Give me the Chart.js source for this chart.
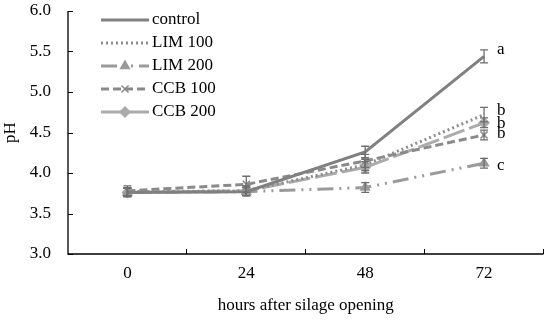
<!DOCTYPE html>
<html>
<head>
<meta charset="UTF-8">
<script src="https://cdn.jsdelivr.net/npm/chart.js"></script>
<style>
  html, body { margin: 0; padding: 0; background: #fff; }
  #wrap { width: 550px; height: 325px; }
</style>
</head>
<body>
<div id="wrap"><canvas id="chart" width="550" height="325"></canvas></div>
<script>
// hours after opening
const hours = ["0", "24", "48", "72"];

const control = [3.76, 3.77, 4.26, 5.44];
const lim100 = [3.77, 3.78, 4.10, 4.72];
const lim200 = [3.76, 3.77, 3.82, 4.12];
const ccb100 = [3.78, 3.86, 4.15, 4.47];
const ccb200 = [3.76, 3.78, 4.07, 4.62];

const controlErr = [0.05, 0.05, 0.07, 0.08];
const lim100Err = [0.05, 0.06, 0.07, 0.09];
const lim200Err = [0.05, 0.05, 0.06, 0.06];
const ccb100Err = [0.06, 0.10, 0.08, 0.06];
const ccb200Err = [0.05, 0.06, 0.07, 0.06];

const letters = ["a", "b", "c", "b", "b"];

const FONT = "'Liberation Serif', serif";

const series = [
  { label: "control", data: control, err: controlErr, color: "#808080", dash: [], point: false, width: 3 },
  { label: "LIM 100", data: lim100, err: lim100Err, color: "#8e8e8e", dash: [2, 3], point: false, width: 3 },
  { label: "LIM 200", data: lim200, err: lim200Err, color: "#9a9a9a", dash: [16, 6, 2, 6, 2, 6], point: "triangle", width: 3 },
  { label: "CCB 100", data: ccb100, err: ccb100Err, color: "#8a8a8a", dash: [8, 4], point: "crossRot", width: 3 },
  { label: "CCB 200", data: ccb200, err: ccb200Err, color: "#ababab", dash: [22, 5], point: "rectRot", width: 3 }
];

// error bars, letters, inward ticks, legend
const extras = {
  id: "extras",
  afterDatasetsDraw(chart) {
    const ctx = chart.ctx;
    const x = chart.scales.x, y = chart.scales.y;
    ctx.save();
    // error bars
    ctx.strokeStyle = "#6e6e6e";
    ctx.lineWidth = 1.3;
    ctx.setLineDash([]);
    series.forEach((s) => {
      s.data.forEach((v, i) => {
        const px = x.getPixelForValue(i);
        const top = y.getPixelForValue(v + s.err[i]);
        const bot = y.getPixelForValue(v - s.err[i]);
        ctx.beginPath();
        ctx.moveTo(px, top); ctx.lineTo(px, bot);
        ctx.moveTo(px - 4, top); ctx.lineTo(px + 4, top);
        ctx.moveTo(px - 4, bot); ctx.lineTo(px + 4, bot);
        ctx.stroke();
      });
    });
    // significance letters at 72 h
    ctx.fillStyle = "#000";
    ctx.font = "17px " + FONT;
    ctx.textAlign = "left";
    ctx.textBaseline = "middle";
    const last = hours.length - 1;
    const nudge = [-7, -4, 2, -1, 1];
    series.forEach((s, k) => {
      const px = x.getPixelForValue(last) + 13;
      const py = y.getPixelForValue(s.data[last]) + nudge[k];
      ctx.fillText(letters[k], px, py);
    });
    // inward tick marks
    ctx.strokeStyle = "#000";
    ctx.lineWidth = 1;
    const area = chart.chartArea;
    y.ticks.forEach((t, i) => {
      const py = Math.round(y.getPixelForTick(i)) + 0.5;
      ctx.beginPath();
      ctx.moveTo(area.left, py); ctx.lineTo(area.left + 5, py);
      ctx.stroke();
    });
    const step = (area.right - area.left) / hours.length;
    for (let i = 1; i <= hours.length; i++) {
      const px = Math.round(area.left + step * i) - 0.5;
      ctx.beginPath();
      ctx.moveTo(px, area.bottom); ctx.lineTo(px, area.bottom - 5);
      ctx.stroke();
    }
    // axis lines
    ctx.lineWidth = 1.3;
    ctx.beginPath();
    ctx.moveTo(area.left, area.top); ctx.lineTo(area.left, area.bottom);
    ctx.lineTo(area.right, area.bottom);
    ctx.stroke();
    // legend
    ctx.font = "17px " + FONT;
    ctx.textBaseline = "middle";
    series.forEach((s, k) => {
      const ly = 20 + k * 23;
      const x0 = 101, x1 = 149;
      ctx.strokeStyle = s.color;
      ctx.lineWidth = s.width;
      ctx.setLineDash(s.dash);
      ctx.beginPath();
      ctx.moveTo(x0, ly); ctx.lineTo(x1, ly);
      ctx.stroke();
      ctx.setLineDash([]);
      if (s.point) {
        ctx.fillStyle = s.color;
        ctx.strokeStyle = s.color;
        ctx.lineWidth = 1.5;
        Chart.helpers.drawPoint(ctx, { pointStyle: s.point, radius: 5, borderWidth: 1.5 }, (x0 + x1) / 2, ly);
      }
      ctx.fillStyle = "#000";
      ctx.fillText(s.label, 152, ly);
    });
    ctx.restore();
  }
};

new Chart(document.getElementById("chart"), {
  type: "line",
  data: {
    labels: hours,
    datasets: series.map((s) => ({
      label: s.label,
      data: s.data,
      borderColor: s.color,
      backgroundColor: s.color,
      borderWidth: s.width,
      borderDash: s.dash,
      pointStyle: s.point || "circle",
      pointRadius: s.point ? 5 : 0,
      pointBorderWidth: 1.5,
      pointBorderColor: s.color,
      pointBackgroundColor: s.color,
      tension: 0,
      fill: false
    }))
  },
  options: {
    responsive: false,
    animation: false,
    layout: { padding: { top: 11, right: 5, left: 0, bottom: 0 } },
    plugins: {
      legend: { display: false },
      tooltip: { enabled: false }
    },
    scales: {
      x: {
        offset: true,
        grid: { display: false, drawTicks: false },
        border: { display: false },
        ticks: { color: "#000", font: { family: FONT, size: 17 }, padding: 9, maxRotation: 0 },
        title: { display: true, text: "hours after silage opening", color: "#000", font: { family: FONT, size: 17 }, padding: { top: 0, bottom: 9 } },
        afterFit: (s) => { s.height = 71; s.paddingLeft = 0; s.paddingRight = 0; }
      },
      y: {
        min: 3.0,
        max: 6.0,
        grid: { display: false, drawTicks: false },
        border: { display: false },
        ticks: {
          stepSize: 0.5,
          color: "#000",
          font: { family: FONT, size: 17 },
          padding: 17,
          callback: (v) => Number(v).toFixed(1)
        },
        title: { display: true, text: "pH", color: "#000", font: { family: FONT, size: 17 }, padding: 0 },
        afterFit: (s) => { s.width = 68; s.paddingTop = 0; s.paddingBottom = 0; }
      }
    }
  },
  plugins: [extras]
});
</script>
</body>
</html>
